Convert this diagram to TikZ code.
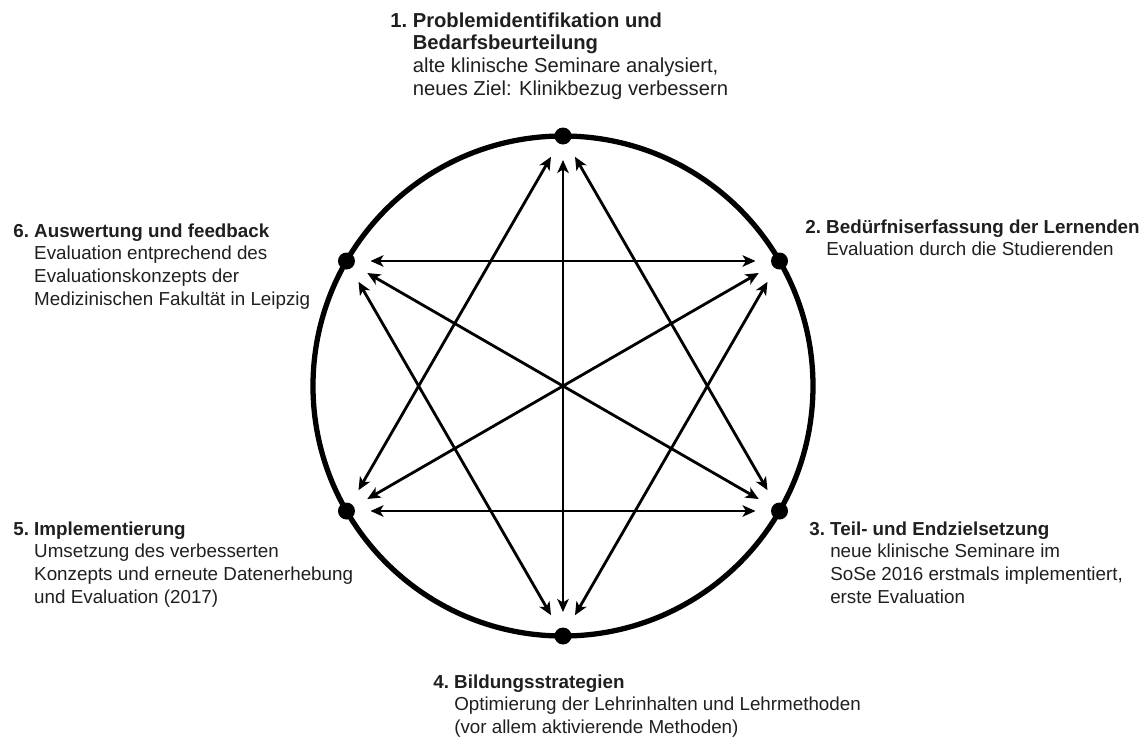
\documentclass[tikz,border=0pt]{standalone}
\usepackage{fontspec}
\setmainfont{Liberation Sans}
\usetikzlibrary{arrows.meta}

\tikzset{
  ring/.style = {line width = 3pt},
  dot/.style = {fill = black},
  link/.style = {line width = 1.6pt, {Stealth[length=2.6mm, width=2.3mm, inset=0.7mm]}-{Stealth[length=2.6mm, width=2.3mm, inset=0.7mm]}, shorten < = 0.48cm, shorten > = 0.48cm},
  lbl/.style = {anchor = base west, inner sep = 0, text = black!88, font = \fontsize{10.7}{12.9}\selectfont}
}
\newcommand{\steplabel}[3]{\begin{tabular}[t]{@{}l@{\ }l@{}}\textbf{#1} & \textbf{#2}\\ #3\end{tabular}}

\begin{document}
\begin{tikzpicture}
        \useasboundingbox (-11.26, -7.08) rectangle (11.68, 7.72);
        \draw[ring] (0,0) circle (5);
        \coordinate (p1) at (90:5);
        \coordinate (p2) at (30:5);
        \coordinate (p3) at (-30:5);
        \coordinate (p4) at (-90:5);
        \coordinate (p5) at (210:5);
        \coordinate (p6) at (150:5);
        \foreach \i in {1,...,6}
            \fill[dot] (p\i) circle (0.17);
        \foreach \a/\b in {1/3, 1/4, 1/5, 2/4, 2/5, 2/6, 3/5, 3/6, 4/6}
            \draw[link] (p\a) -- (p\b);
        \node[lbl, font = \fontsize{11.5}{13}\selectfont] (l1) at (-3.46, 7.18) {\steplabel{1.}{Problemidentifikation und}{& \textbf{Bedarfsbeurteilung}\\ & alte klinische Seminare analysiert,\\ & neues Ziel: Klinikbezug verbessern}};
        \node[lbl] (l2) at (4.84, 3.06) {\steplabel{2.}{Bedürfniserfassung der Lernenden}{& Evaluation durch die Studierenden}};
        \node[lbl] (l3) at (4.92, -2.98) {\steplabel{3.}{Teil- und Endzielsetzung}{& neue klinische Seminare im\\ & SoSe 2016 erstmals implementiert,\\ & erste Evaluation}};
        \node[lbl] (l4) at (-2.6, -6.04) {\steplabel{4.}{Bildungsstrategien}{& Optimierung der Lehrinhalten und Lehrmethoden\\ & (vor allem aktivierende Methoden)}};
        \node[lbl] (l5) at (-11.0, -2.98) {\steplabel{5.}{Implementierung}{& Umsetzung des verbesserten\\ & Konzepts und erneute Datenerhebung\\ & und Evaluation (2017)}};
        \node[lbl] (l6) at (-11.0, 2.98) {\steplabel{6.}{Auswertung und feedback}{& Evaluation entprechend des\\ & Evaluationskonzepts der\\ & Medizinischen Fakultät in Leipzig}};
    \end{tikzpicture}
\end{document}
